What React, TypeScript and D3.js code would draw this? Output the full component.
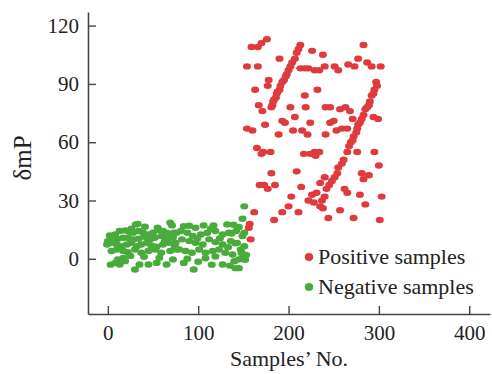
import * as d3 from 'd3';
import React, { useEffect, useRef } from 'react';

// values
const posX = [176, 170, 166, 159, 213, 226, 238, 283, 190, 277, 287, 266, 273, 154, 166, 213, 218, 222, 229, 234, 240, 251, 255, 292, 302,
    209, 207, 204, 200, 198, 195, 193, 190, 187, 184, 182, 181, 211, 202, 197, 191, 188, 186, 183,
    178, 177, 163, 232, 218, 167, 171, 202, 219, 241, 246, 257, 263, 268,
    297, 298, 295, 292, 290, 287, 285, 281, 277, 275, 272, 269, 294, 289, 283, 279, 276, 271, 267,
    294, 299, 207, 193, 196, 174, 224, 246, 250, 271, 154, 160, 189, 205, 215, 221, 241, 253, 259, 265,
    165, 170, 172, 180, 217, 224, 229, 234, 230, 265, 276, 295,
    261, 259, 255, 254, 251, 248, 245, 242, 240, 237, 235, 231, 226,
    181, 209, 240, 281, 289, 283, 300, 168, 173, 185, 214, 262, 177, 203, 265, 279, 303,
    200, 222, 228, 235, 238, 285, 162, 193, 211, 257, 184, 244, 272, 301, 157, 156, 158];
const posY = [113, 111, 109, 109, 110, 107, 105, 110, 103, 103, 101, 100, 99, 99, 99, 98, 98, 98, 97, 97, 99, 99, 97, 99, 99,
    106, 103, 101, 97, 95, 92, 91, 87, 85, 82, 79, 78, 108, 99, 94, 89, 86, 83, 81,
    92, 89, 87, 87, 84, 79, 76, 78, 78, 78, 78, 77, 78, 76,
    91, 89, 87, 84, 81, 78, 77, 72, 69, 65, 63, 60, 85, 79, 74, 70, 67, 61, 58,
    73, 72, 73, 71, 70, 69, 70, 70, 71, 72, 67, 66, 64, 66, 66, 64, 64, 66, 67, 67,
    57, 54, 55, 55, 54, 54, 55, 55, 53, 55, 55, 55,
    51, 49, 47, 44, 42, 40, 38, 36, 32, 30, 39, 34, 33,
    44, 45, 42, 44, 43, 41, 48, 38, 38, 38, 37, 36, 36, 32, 34, 33, 32,
    27, 30, 29, 27, 26, 28, 24, 24, 24, 25, 20, 21, 21, 20, 18, 16, 10];

const negX = [33, 41, 69, 71,
    13, 19, 24, 28, 34, 39, 45, 50, 56, 61, 65, 71, 76,
    0, 6, 11, 17, 22, 28, 34, 41, 47, 52, 59, 65, 72,
    -1, 4, 10, 15, 21, 26, 32, 37, 43, 48, 54, 61, 67, 74,
    4, 10, 17, 22, 30, 37, 45, 52, 59, 69, 76,
    11, 17, 8, 13, 19, 30, 35, 45, 54, 65, 72,
    84, 97, 106, 117, 132, 145, 151,
    73, 81, 88, 94, 103, 110, 119, 127, 134, 142, 149,
    75, 82, 90, 97, 105, 112, 119, 127, 136, 143, 151,
    79, 86, 93, 101, 108, 116, 123, 130, 138, 147,
    84, 95, 108, 119, 127, 140, 145, 149,
    151, 149, 90, 31, 141, 148, 153, 152, 145, 141, 139, 137,
    2, 8, 26, 55, 63, 99, 114, 124, 133, 57, 40, 25, 88, 100, 115, 135, 3];
const negY = [18, 16.5, 18.6, 17.2,
    14.3, 14.6, 13.9, 13.4, 14.3, 13.4, 12.5, 13.4, 14.8, 14.3, 13.4, 12.5, 13.4,
    9.1, 10, 10.3, 10.8, 10.8, 10, 10.3, 11.3, 10, 10.8, 11.7, 10.3, 10.8,
    7.4, 8.2, 7.4, 6.5, 7.4, 8.2, 6.5, 7.4, 8.2, 6.9, 6.2, 7.4, 8.2, 6.5,
    4, 4.8, 4, 3.4, 4.8, 3.1, 4, 4.8, 3.1, 4, 4.8,
    -0.3, 0.5, -2.1, -2.9, -1.2, -5.5, -2.9, -2.9, -2.1, -2.9, -0.3,
    16.8, 16, 17.2, 17.2, 17.7, 16.4, 13.4,
    13.4, 14.3, 13.4, 11.7, 12.5, 13.4, 14.3, 12.5, 13.4, 14.3, 11.7,
    8.2, 10, 9.1, 8.2, 7.4, 10, 8.6, 7.4, 9.1, 8.2, 6.5,
    4.8, 4, 3.1, 4.8, 3.1, 4, 4.8, 3.1, 2.2, 4.8,
    -2.1, -5.5, 0.3, 1.2, -2.9, -1.2, -0.3, 0.5,
    27, 20.6, 17, 17.7, 8, 3, 2, -0.5, -4.8, -4.8, 17.5, 13,
    12, 12.5, 15.5, 16, 9, 10.5, 15.5, 10.5, 6, 0.5, 1, 1.5, 0, -1.5, -3, -3.5, -3];

const xTicks = [0, 100, 200, 300, 400];
const yTicks = [0, 30, 60, 90, 120];
const seriesNames = ['Positive samples', 'Negative samples'];
const seriesColors = ['#df3b3f', '#4aab3d'];

export default () => {
    const ref = useRef<any>();

    useEffect(() => {
        const width = 492;
        const height = 374;
        const font = '"Liberation Serif", "Times New Roman", serif';

        const svg = d3.select<any, any>(ref.current)
            .attr('width', width)
            .attr('height', height);
        svg.selectAll('*').remove();

        const x = d3.scaleLinear().domain([-22, 423]).range([88, 490]);
        const y = d3.scaleLinear().domain([-28.4, 127]).range([314, 12]);

        const pos = posX.map((v, i) => ({ x: v, y: posY[i] }));
        const neg = negX.map((v, i) => ({ x: v, y: negY[i] }));

        //points
        const dots = svg.append('g');
        dots.selectAll('.neg')
            .data(neg)
            .join('ellipse')
            .attr('class', 'neg')
            .attr('cx', d => x(d.x))
            .attr('cy', d => y(d.y))
            .attr('rx', 4)
            .attr('ry', 3.2)
            .attr('fill', seriesColors[1]);
        dots.selectAll('.pos')
            .data(pos)
            .join('ellipse')
            .attr('class', 'pos')
            .attr('cx', d => x(d.x))
            .attr('cy', d => y(d.y))
            .attr('rx', 4)
            .attr('ry', 3.2)
            .attr('fill', seriesColors[0]);

        //axes
        const axisBottom = d3.axisBottom(x)
            .tickValues(xTicks)
            .tickSizeInner(-8)
            .tickSizeOuter(0)
            .tickPadding(11);
        const gx = svg.append('g')
            .attr('transform', `translate(0, ${y(-28.4)})`)
            .call(axisBottom as any);

        const axisLeft = d3.axisLeft(y)
            .tickValues(yTicks)
            .tickSizeInner(-8)
            .tickSizeOuter(0)
            .tickPadding(9);
        const gy = svg.append('g')
            .attr('transform', `translate(${x(-22)}, 0)`)
            .call(axisLeft as any);

        [gx, gy].forEach(g => {
            g.select('.domain').attr('stroke', '#444').attr('stroke-width', 1.6);
            g.selectAll('.tick line').attr('stroke', '#444').attr('stroke-width', 1.4);
            g.selectAll('.tick text')
                .attr('fill', '#222')
                .style('font-family', font)
                .style('font-size', '21px');
        });

        //titles
        svg.append('text')
            .attr('x', 289)
            .attr('y', 366)
            .attr('text-anchor', 'middle')
            .attr('fill', '#222')
            .style('font-family', font)
            .style('font-size', '22px')
            .text('Samples\u2019 No.');

        svg.append('text')
            .attr('transform', 'translate(31, 158) rotate(-90)')
            .attr('text-anchor', 'middle')
            .attr('fill', '#222')
            .style('font-family', font)
            .style('font-size', '25px')
            .text('δmP');

        //legend
        const legend = svg.append('g');
        seriesNames.forEach((name, i) => {
            const cy = 257 + i * 30;
            legend.append('ellipse')
                .attr('cx', 309)
                .attr('cy', cy)
                .attr('rx', 4.2)
                .attr('ry', 4)
                .attr('fill', seriesColors[i]);
            legend.append('text')
                .attr('x', 318)
                .attr('y', cy + 7)
                .attr('fill', '#222')
                .style('font-family', font)
                .style('font-size', '22px')
                .text(name);
        });
    });

    return (
        <svg ref={ref} style={{ position: 'absolute', left: 0, top: 0, background: '#fff' }}></svg>
    );
}
